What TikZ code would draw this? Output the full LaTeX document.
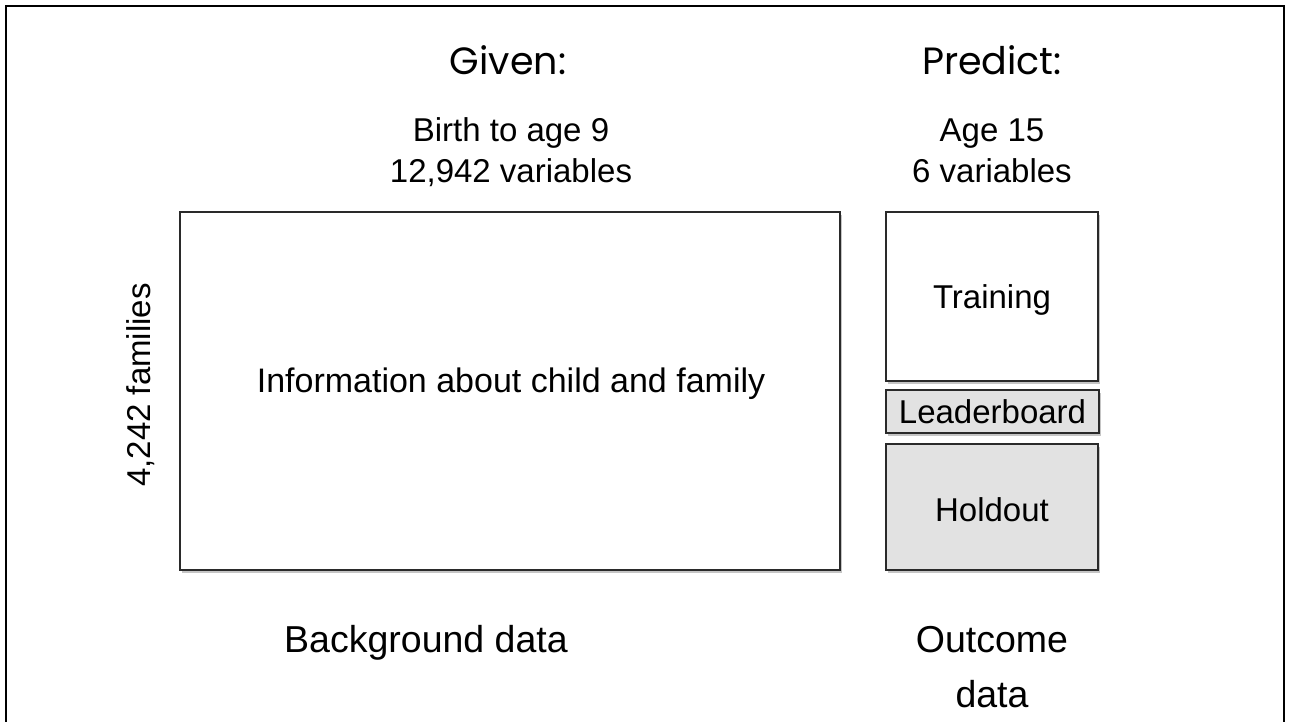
\documentclass[tikz,border=0pt]{standalone}
\usepackage{fontspec}
\setmainfont{Liberation Sans}
\newfontfamily\givenfont{Poppins}
\usetikzlibrary{shadows}
\definecolor{boxline}{HTML}{2A2A2A}
\definecolor{greyfill}{HTML}{E2E2E2}
\begin{document}
\begin{tikzpicture}[x=1pt,y=-1pt,
  frame/.style={line width=2.6pt, draw=black},
  databox/.style={draw=boxline, line width=2pt, fill=white, inner sep=0pt,
    drop shadow={opacity=0.45, shadow xshift=1.5pt, shadow yshift=-3pt}},
  greybox/.style={databox, fill=greyfill},
  head/.style={anchor=base, font=\givenfont\fontsize{38}{44}\selectfont},
  sub/.style={anchor=base, font=\fontsize{33}{41}\selectfont},
  boxtext/.style={font=\fontsize{33}{41}\selectfont},
  big/.style={anchor=base, font=\fontsize{37.5}{53}\selectfont, align=center}
]
\useasboundingbox (0,0) rectangle (1293,722);
\fill[white] (0,0) rectangle (1293,722);
% outer frame (open at bottom)
\coordinate (fbl) at (6,724);
\coordinate (ftl) at (6,6);
\coordinate (ftr) at (1284,6);
\coordinate (fbr) at (1284,724);
\draw[frame] (fbl) -- (ftl) -- (ftr) -- (fbr);

% headings
\node[head] (given) at (508,75) {Given:};
\node[head] (predict) at (992,75) {Predict:};
\node[sub] (birth) at (511,142) {Birth to age 9};
\node[sub] (vars) at (511,183) {12,942 variables};
\node[sub] (age) at (992,142) {Age 15};
\node[sub] (six) at (992,183) {6 variables};

% boxes
\node[databox, minimum width=660pt, minimum height=358pt] (bg) at (510,391) {};
\node[boxtext, font=\fontsize{34}{41}\selectfont] (info) at (511,384) {Information about child and family};
\node[databox, minimum width=212pt, minimum height=168pt] (train) at (992,296.5) {};
\node[boxtext] (traintxt) at (992,300) {Training};
\node[greybox, minimum width=213pt, minimum height=43pt] (lead) at (992.5,411.5) {};
\node[boxtext] (leadtxt) at (992.5,412) {Leaderboard};
\node[greybox, minimum width=212pt, minimum height=126pt] (hold) at (992,507) {};
\node[boxtext] (holdtxt) at (992,510) {Holdout};

% side label
\node[boxtext, rotate=90] (fam) at (141,385) {4,242 families};

% bottom labels
\node[big] (bgdata) at (426,652) {Background data};
\node[big] (outc) at (992,652) {Outcome};
\node[big] (outd) at (992,707) {data};
\end{tikzpicture}
\end{document}
